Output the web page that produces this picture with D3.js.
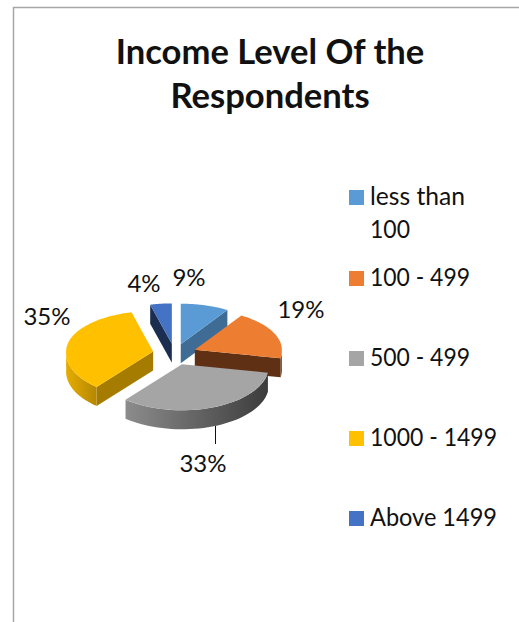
<!DOCTYPE html>
<html><head><meta charset="utf-8">
<script src="https://cdn.jsdelivr.net/npm/d3@7"></script>
<style>html,body{margin:0;padding:0;background:#fff}svg{display:block}text{font-family:Lato,Carlito,sans-serif;fill:#111}</style>
</head><body><svg id="c" width="519" height="622"></svg>
<script>
const categories = ["less than 100","100 - 499","500 - 499","1000 - 1499","Above 1499"];
const values = [9,19,33,35,4];
const legendLines = [["less than","100"],["100 - 499"],["500 - 499"],["1000 - 1499"],["Above 1499"]];
const legendWidths = [[95,40],[100],[100],[127],[127]];
const titleLines = ["Income Level Of the","Respondents"];
const topColors = ["#5b9bd5","#ed7d31","#a5a5a5","#ffc000","#4472c4"];
const wallColors = ["#3e6c95","#5f3013","#8a8a8a","#a67c00","#1b2e50"];
const sideGrad = [null,["#6b3614","#5f3013"],["#8c8c8c","#3c3c3c"],["#e6ad00","#b58700"],null];

const cx=174.6, cy=353.6, rx=87, tiltBack=0.465, tiltFront=0.53, explode=22;
const svg=d3.select("#c");
svg.append("path").attr("d",`M13.5 622V7.5H519`).attr("fill","none").attr("stroke","#a6a6a6").attr("stroke-width",1.5);

const title=svg.append("g").attr("text-anchor","middle").style("font-weight",700).style("font-size","34.6px");
titleLines.forEach((t,i)=>title.append("text").attr("x",270).attr("y",64+i*44).text(t));

const arcs=d3.pie().sort(null)(values);
const defs=svg.append("defs");
const px=(a,r=rx)=>r*Math.sin(a)*(1+0.025*Math.max(0,-Math.cos(a)));
const py=(a,r=rx)=>{const c=-Math.cos(a);return r*c*(c>0?tiltFront:tiltBack);};
const depth=a=>19;
const arcPts=(a0,a1,n=40)=>d3.range(n+1).map(i=>{const a=a0+(a1-a0)*i/n;return [px(a),py(a),a];});
const line=d3.line();
const HP=Math.PI/2, P3=Math.PI*1.5;
const order=[4,0,1,3,2];
const layer=svg.append("g");
order.forEach(idx=>{
  const d=arcs[idx], mid=(d.startAngle+d.endAngle)/2;
  const g=layer.append("g").attr("transform",`translate(${cx+explode*Math.sin(mid)},${cy+py(mid,explode)*0.96})`);
  const wall=(a)=>line([[0,0],[px(a),py(a)],[px(a),py(a)+depth(a)],[0,19]])+"Z";
  if(Math.sin(d.startAngle)<0) g.append("path").attr("d",wall(d.startAngle)).attr("fill",wallColors[idx]);
  if(Math.sin(d.endAngle)>0) g.append("path").attr("d",wall(d.endAngle)).attr("fill",wallColors[idx]);
  const s=Math.max(d.startAngle,HP), e=Math.min(d.endAngle,P3);
  if(e>s){
    const top=arcPts(s,e), bot=top.map(p=>[p[0],p[1]+depth(p[2])]).reverse();
    const id="g"+idx, c=sideGrad[idx];
    const xs=top.map(p=>p[0]);
    const gr=defs.append("linearGradient").attr("id",id).attr("gradientUnits","userSpaceOnUse")
      .attr("x1",d3.min(xs)).attr("x2",d3.max(xs)).attr("y1",0).attr("y2",0);
    gr.append("stop").attr("offset",0).attr("stop-color",c[0]);
    gr.append("stop").attr("offset",1).attr("stop-color",c[1]);
    g.append("path").attr("d",line(top.concat(bot).map(p=>[p[0],p[1]]))+"Z").attr("fill",`url(#${id})`);
  }
  const topPts=[[0,0]].concat(arcPts(d.startAngle,d.endAngle,60).map(p=>[p[0],p[1]]));
  g.append("path").attr("d",line(topPts)+"Z").attr("fill",topColors[idx]);
});

const pct=d=>d+"%";
const labelPos=[[189,286],[301,318],[203,472],[47,325],[144,292]];
const lab=svg.append("g").attr("text-anchor","middle").style("font-size","24px");
values.forEach((v,i)=>lab.append("text").attr("x",labelPos[i][0]).attr("y",labelPos[i][1]).text(pct(v)));
svg.append("line").attr("x1",215.5).attr("x2",215.5).attr("y1",426).attr("y2",444).attr("stroke","#111").attr("stroke-width",1);

const legendTop=[190,271,351,431,511];
const leg=svg.append("g").style("font-size","25px");
categories.forEach((c,i)=>{
  leg.append("rect").attr("x",349).attr("y",legendTop[i]).attr("width",15).attr("height",15).attr("fill",topColors[i]);
  legendLines[i].forEach((t,j)=>leg.append("text").attr("x",370).attr("y",legendTop[i]+15+j*33)
    .attr("textLength",legendWidths[i][j]).attr("lengthAdjust","spacingAndGlyphs").text(t));
});
</script></body></html>
